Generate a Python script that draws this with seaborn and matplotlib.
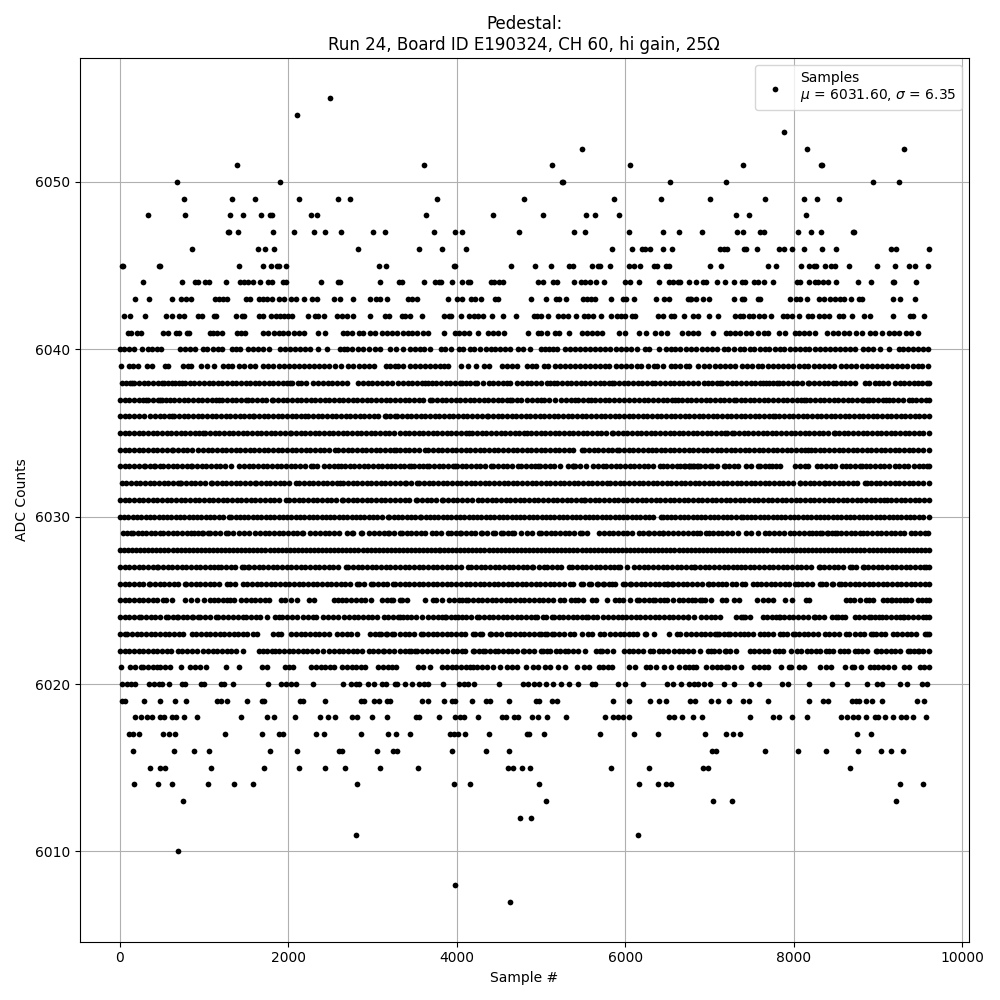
import matplotlib
matplotlib.use('Agg')
import matplotlib.pyplot as plt
import pandas as pd
import seaborn as sns

# sample numbers at each ADC level
s_6055 = [2499]
s_6054 = [2107]
s_6053 = [7879]
s_6052 = [5491, 8152, 9304]
s_6051 = [1394, 3614, 5135, 6061, 7403, 8320, 8335]
s_6050 = [681, 1905, 5250, 5258, 6525, 7201, 8936, 9245]
s_6049 = [764, 1335, 1608, 2130, 2594, 2736, 3768, 4802, 5871, 6418, 7011, 7653, 8116, 8271, 8532]
s_6048 = [337, 776, 1311, 1465, 1679, 1786, 1810, 2273, 2344, 3638, 4434, 5028, 5539, 5646, 5931, 7320, 7463, 8140]
s_6047 = [1285, 1295, 1406, 1822, 2071, 2309, 2440, 2630, 3010, 3152, 3733, 3982, 4066, 4743, 5396, 5527, 6038, 6442,
          6632, 6916, 7332, 7392, 7605, 7641, 8045, 8199, 8318, 8698, 8710]
s_6046 = [859, 1643, 1727, 1834, 2831, 3555, 3828, 4113, 5848, 6085, 6204, 6228, 6299, 6453, 6560, 7130, 7166, 7213,
          7415, 7439, 7558, 7819, 7879, 7985, 8116, 8330, 8496, 9150, 9209, 9601]
s_6045 = [28, 40, 467, 480, 1418, 1703, 1798, 1869, 1893, 1976, 3081, 3164, 3970, 3982, 4648, 4933, 5123, 5337, 5384,
          5610, 5681, 5701, 5824, 6049, 6109, 6180, 6346, 6382, 6489, 6513, 7011, 7142, 7700, 7784, 8092, 8176, 8235,
          8259, 8366, 8437, 8485, 8651, 8983, 9197, 9364, 9435, 9589]
s_6044 = [277, 741, 895, 930, 1014, 1061, 1263, 1430, 1477, 1525, 1584, 1667, 1762, 1810, 1940, 1976, 2392, 2594, 2618,
          3093, 3310, 3345, 3614, 3745, 3792, 3816, 3947, 4066, 4137, 4161, 4410, 4446, 4505, 4553, 4968, 5028, 5147,
          5194, 5396, 5479, 5527, 5586, 5657, 5752, 6002, 6061, 6168, 6406, 6513, 6572, 6620, 6644, 6762, 6845, 6928,
          6964, 7083, 7178, 7296, 7391, 7427, 7534, 7570, 7641, 7748, 8033, 8069, 8176, 8247, 8283, 8342, 8401, 8496,
          8758, 8912, 9174, 9186, 9447]
s_6043 = [182, 349, 622, 729, 788, 847, 1133, 1180, 1228, 1275, 1501, 1548, 1655, 1703, 1750, 1810, 1893, 1952, 2036,
          2095, 2190, 2285, 2337, 2546, 2618, 2772, 2974, 3045, 3093, 3176, 3424, 3472, 3531, 3899, 4006, 4066, 4172,
          4220, 4291, 4458, 4493, 4885, 5063, 5182, 5218, 5301, 5503, 5550, 5598, 5645, 5836, 5978, 6014, 6109, 6370,
          6465, 6513, 6739, 6774, 6786, 6845, 6928, 6988, 7285, 7380, 7415, 7570, 7605, 7950, 8021, 8069, 8152, 8294,
          8354, 8425, 8485, 8544, 8591, 8675, 8770, 8805, 9174, 9257, 9435]
s_6042 = [52, 123, 301, 551, 622, 705, 764, 931, 978, 1121, 1144, 1382, 1453, 1477, 1655, 1703, 1798, 1857, 1905, 1952,
          2000, 2047, 2238, 2321, 2356, 2427, 2582, 2641, 2701, 2772, 2974, 3152, 3200, 3345, 3380, 3448, 3590, 3852,
          3911, 3935, 4054, 4149, 4208, 4256, 4315, 4422, 4553, 4707, 4921, 4956, 5004, 5087, 5206, 5265, 5325, 5420,
          5515, 5562, 5622, 5717, 5836, 5907, 5954, 6002, 6085, 6121, 6394, 6442, 6548, 6584, 6702, 6798, 6869, 6988,
          7106, 7308, 7356, 7403, 7463, 7522, 7582, 7641, 7724, 7867, 7914, 7974, 8057, 8164, 8211, 8294, 8354, 8413,
          8532, 8580, 8686, 8829, 8900, 9174, 9375, 9411, 9542]
s_6041 = [99, 134, 198, 253, 514, 574, 669, 704, 800, 824, 1073, 1108, 1156, 1215, 1393, 1441, 1489, 1702, 1762, 1833,
          1892, 1940, 2000, 2071, 2130, 2189, 2356, 2439, 2653, 2700, 2760, 2843, 2890, 2974, 3033, 3116, 3176, 3235,
          3294, 3365, 3424, 3472, 3531, 3602, 3662, 3852, 3982, 4030, 4089, 4149, 4256, 4374, 4434, 4493, 4564, 4850,
          4968, 5004, 5075, 5170, 5218, 5337, 5491, 5550, 5610, 5669, 5729, 5931, 6002, 6168, 6251, 6358, 6418, 6501,
          6679, 6750, 6809, 6869, 7047, 7201, 7249, 7308, 7356, 7439, 7498, 7570, 7641, 7700, 7819, 7902, 8009, 8057,
          8116, 8176, 8247, 8389, 8461, 8520, 8591, 8651, 8734, 8805, 8900, 8960, 9043, 9126, 9185, 9245, 9328, 9387,
          9470]
s_6040 = [0, 51, 110, 170, 265, 336, 384, 443, 491, 716, 776, 835, 894, 990, 1037, 1108, 1168, 1215, 1334, 1382, 1429,
          1524, 1584, 1643, 1702, 1774, 1904, 1964, 2023, 2083, 2142, 2201, 2261, 2356, 2463, 2617, 2665, 2700, 2760,
          2831, 2890, 2962, 3033, 3092, 3211, 3282, 3365, 3448, 3507, 3567, 3614, 3685, 3816, 3864, 3935, 4030, 4077,
          4161, 4208, 4279, 4351, 4410, 4458, 4517, 4576, 4636, 4731, 4790, 4873, 5004, 5052, 5099, 5147, 5194, 5289,
          5349, 5408, 5467, 5527, 5586, 5646, 5705, 5764, 5824, 5895, 5954, 6014, 6073, 6133, 6228, 6287, 6406, 6489,
          6537, 6596, 6655, 6715, 6786, 6845, 6908, 6968, 7027, 7087, 7166, 7225, 7285, 7356, 7415, 7475, 7534, 7594,
          7653, 7712, 7772, 7831, 7890, 7950, 8009, 8069, 8128, 8187, 8247, 8306, 8366, 8425, 8484, 8544, 8603, 8663,
          8722, 8817, 8876, 8936, 9019, 9126, 9245, 9292, 9352, 9411, 9471, 9530, 9589]
s_6039 = [15, 110, 158, 217, 324, 384, 538, 574, 752, 811, 847, 966, 1037, 1120, 1227, 1287, 1334, 1417, 1477, 1548,
          1607, 1702, 1762, 1821, 1892, 1952, 2011, 2071, 2130, 2189, 2249, 2308, 2367, 2427, 2486, 2558, 2629, 2712,
          2772, 2843, 2902, 2962, 3021, 3164, 3211, 3270, 3306, 3365, 3448, 3507, 3567, 3626, 3685, 3745, 3804, 3852,
          3899, 4054, 4137, 4232, 4327, 4386, 4541, 4600, 4659, 4719, 4838, 4897, 4945, 5040, 5087, 5170, 5230, 5289,
          5349, 5408, 5467, 5527, 5586, 5646, 5705, 5764, 5812, 5895, 5954, 6014, 6073, 6133, 6192, 6275, 6335, 6382,
          6442, 6537, 6596, 6655, 6715, 6762, 6869, 6940, 6998, 7062, 7120, 7179, 7238, 7305, 7388, 7446, 7509, 7571,
          7628, 7690, 7752, 7811, 7870, 7932, 7991, 8058, 8116, 8175, 8240, 8301, 8358, 8419, 8480, 8560, 8622, 8680,
          8744, 8810, 8872, 8931, 8990, 9052, 9110, 9168, 9230, 9291, 9350, 9412, 9470, 9528, 9590]
s_6038 = [19, 72, 118, 146, 170, 226, 281, 333, 392, 447, 501, 526, 566, 613, 657, 702, 740, 776, 831, 884, 941, 996,
          1052, 1104, 1161, 1217, 1270, 1326, 1382, 1436, 1491, 1546, 1602, 1656, 1711, 1766, 1822, 1876, 1931, 1986,
          2019, 2047, 2118, 2154, 2209, 2296, 2356, 2411, 2466, 2522, 2578, 2633, 2693, 2831, 2887, 2943, 2998, 3053,
          3109, 3165, 3235, 3306, 3362, 3418, 3473, 3529, 3584, 3622, 3662, 3709, 3757, 3812, 3868, 3923, 3979, 4034,
          4065, 4105, 4160, 4215, 4244, 4315, 4386, 4434, 4490, 4546, 4601, 4636, 4719, 4775, 4830, 4886, 4942, 4997,
          5067, 5111, 5158, 5194, 5250, 5305, 5361, 5416, 5472, 5527, 5583, 5639, 5694, 5750, 5805, 5840, 5871, 5926,
          5982, 6037, 6093, 6148, 6204, 6259, 6315, 6358, 6414, 6469, 6525, 6580, 6636, 6691, 6747, 6802, 6858, 6936,
          6976, 7032, 7087, 7126, 7154, 7209, 7265, 7320, 7376, 7431, 7487, 7542, 7598, 7629, 7665, 7712, 7748, 7800,
          7819, 7875, 7930, 7986, 8041, 8097, 8168, 8187, 8243, 8298, 8354, 8410, 8461, 8500, 8556, 8611, 8667, 8722,
          8841, 8896, 8960, 9007, 9062, 9118, 9197, 9257, 9312, 9368, 9431, 9470, 9526, 9581, 9600]
s_6037 = [0, 56, 111, 167, 222, 278, 308, 336, 392, 447, 475, 495, 550, 594, 645, 700, 756, 811, 867, 922, 978, 1033,
          1089, 1144, 1180, 1215, 1270, 1326, 1381, 1437, 1496, 1516, 1571, 1627, 1682, 1738, 1801, 1821, 1876, 1932,
          1987, 2043, 2098, 2154, 2209, 2265, 2320, 2376, 2431, 2487, 2542, 2598, 2653, 2709, 2764, 2820, 2875, 2931,
          2986, 3042, 3097, 3153, 3208, 3264, 3326, 3381, 3437, 3492, 3548, 3603, 3681, 3709, 3764, 3820, 3875, 3931,
          3986, 4042, 4097, 4153, 4208, 4264, 4319, 4375, 4430, 4486, 4541, 4597, 4632, 4660, 4715, 4766, 4838, 4893,
          4949, 5004, 5040, 5099, 5170, 5242, 5297, 5353, 5408, 5444, 5499, 5555, 5598, 5646, 5701, 5757, 5812, 5868,
          5923, 5979, 6038, 6109, 6164, 6220, 6275, 6331, 6386, 6442, 6497, 6553, 6592, 6620, 6675, 6731, 6786, 6842,
          6897, 6953, 7008, 7064, 7119, 7175, 7230, 7286, 7316, 7368, 7423, 7479, 7534, 7590, 7645, 7700, 7756, 7811,
          7867, 7922, 7978, 8033, 8089, 8124, 8140, 8195, 8251, 8306, 8362, 8417, 8473, 8528, 8584, 8639, 8695, 8750,
          8809, 8817, 8869, 8889, 8944, 9000, 9055, 9094, 9126, 9181, 9237, 9292, 9372, 9399, 9454, 9510, 9565, 9600]
s_6036 = [0, 55, 111, 168, 224, 289, 360, 416, 471, 527, 582, 613, 645, 700, 756, 811, 867, 922, 978, 1033, 1089, 1144,
          1200, 1255, 1311, 1366, 1422, 1477, 1533, 1584, 1596, 1651, 1707, 1762, 1818, 1873, 1929, 1984, 2040, 2095,
          2151, 2201, 2237, 2292, 2348, 2403, 2459, 2514, 2570, 2625, 2681, 2736, 2792, 2847, 2903, 2958, 3014, 3069,
          3148, 3156, 3211, 3267, 3294, 3349, 3405, 3460, 3516, 3571, 3627, 3682, 3738, 3793, 3849, 3904, 3960, 4015,
          4071, 4126, 4182, 4237, 4293, 4355, 4374, 4429, 4485, 4540, 4596, 4651, 4707, 4762, 4818, 4873, 4929, 4984,
          5040, 5095, 5151, 5206, 5262, 5317, 5373, 5428, 5484, 5539, 5595, 5650, 5706, 5761, 5817, 5872, 5928, 5983,
          6039, 6094, 6150, 6205, 6261, 6316, 6372, 6427, 6483, 6538, 6594, 6649, 6705, 6760, 6816, 6871, 6927, 6982,
          7038, 7093, 7149, 7204, 7260, 7315, 7371, 7426, 7482, 7537, 7593, 7648, 7704, 7752, 7772, 7827, 7883, 7938,
          7994, 8049, 8105, 8160, 8216, 8271, 8327, 8382, 8438, 8493, 8549, 8604, 8660, 8715, 8771, 8826, 8882, 8937,
          8993, 9048, 9104, 9159, 9215, 9270, 9326, 9381, 9437, 9492, 9548, 9600]
s_6035 = [0, 56, 112, 167, 223, 278, 334, 389, 445, 500, 556, 611, 667, 722, 778, 833, 889, 944, 982, 1013, 1068, 1124,
          1179, 1235, 1290, 1346, 1401, 1457, 1512, 1568, 1623, 1679, 1734, 1790, 1845, 1901, 1956, 2019, 2035, 2090,
          2146, 2201, 2257, 2312, 2368, 2423, 2479, 2534, 2590, 2645, 2701, 2756, 2812, 2867, 2923, 2978, 3034, 3089,
          3145, 3200, 3256, 3326, 3381, 3437, 3492, 3548, 3603, 3659, 3714, 3770, 3825, 3881, 3936, 3992, 4047, 4103,
          4145, 4184, 4239, 4295, 4350, 4406, 4461, 4521, 4576, 4631, 4687, 4742, 4798, 4838, 4885, 4940, 4996, 5051,
          5107, 5162, 5218, 5273, 5329, 5384, 5440, 5495, 5551, 5606, 5662, 5717, 5773, 5844, 5859, 5914, 5970, 6025,
          6081, 6136, 6192, 6247, 6303, 6358, 6414, 6469, 6525, 6580, 6636, 6691, 6747, 6801, 6857, 6912, 6968, 7023,
          7079, 7134, 7186, 7205, 7265, 7296, 7351, 7407, 7462, 7518, 7573, 7629, 7684, 7740, 7795, 7851, 7906, 7962,
          8017, 8073, 8128, 8184, 8239, 8295, 8350, 8406, 8473, 8484, 8539, 8595, 8650, 8706, 8761, 8817, 8872, 8928,
          8983, 9039, 9094, 9150, 9205, 9261, 9316, 9372, 9427, 9483, 9538, 9600]
s_6034 = [0, 56, 111, 167, 222, 278, 333, 389, 444, 500, 555, 613, 633, 688, 744, 799, 851, 930, 985, 1041, 1096, 1152,
          1207, 1263, 1318, 1374, 1429, 1485, 1540, 1596, 1651, 1707, 1762, 1818, 1873, 1929, 1984, 2040, 2095, 2151,
          2206, 2262, 2317, 2373, 2428, 2484, 2554, 2593, 2648, 2704, 2759, 2815, 2870, 2926, 2981, 3037, 3092, 3148,
          3203, 3255, 3278, 3326, 3381, 3437, 3492, 3548, 3622, 3662, 3717, 3773, 3828, 3884, 3939, 3995, 4050, 4106,
          4161, 4217, 4272, 4328, 4383, 4439, 4494, 4550, 4605, 4661, 4716, 4772, 4827, 4883, 4938, 4994, 5049, 5105,
          5160, 5216, 5271, 5327, 5382, 5483, 5515, 5570, 5626, 5681, 5737, 5792, 5848, 5899, 5931, 5986, 6042, 6097,
          6153, 6208, 6264, 6319, 6366, 6418, 6473, 6529, 6584, 6640, 6695, 6751, 6806, 6862, 6917, 6973, 7028, 7084,
          7139, 7195, 7250, 7306, 7361, 7417, 7472, 7528, 7583, 7639, 7694, 7750, 7805, 7861, 7916, 7972, 8027, 8083,
          8138, 8164, 8199, 8254, 8310, 8365, 8421, 8476, 8532, 8587, 8643, 8698, 8754, 8809, 8865, 8920, 8976, 9031,
          9087, 9142, 9198, 9253, 9309, 9364, 9420, 9475, 9531, 9600]
s_6033 = [0, 56, 111, 167, 222, 285, 301, 356, 407, 419, 475, 514, 569, 625, 680, 736, 791, 839, 859, 914, 970, 1025,
          1081, 1140, 1191, 1246, 1318, 1417, 1472, 1528, 1583, 1639, 1694, 1750, 1805, 1861, 1916, 1972, 2027, 2083,
          2138, 2194, 2273, 2297, 2344, 2427, 2482, 2538, 2593, 2621, 2673, 2728, 2784, 2839, 2895, 2950, 3006, 3061,
          3117, 3172, 3219, 3270, 3326, 3376, 3431, 3456, 3491, 3546, 3602, 3642, 3673, 3728, 3784, 3839, 3895, 3950,
          3978, 4006, 4062, 4113, 4168, 4224, 4279, 4335, 4406, 4434, 4489, 4545, 4600, 4656, 4723, 4766, 4821, 4877,
          4932, 4964, 4992, 5047, 5103, 5158, 5226, 5321, 5376, 5384, 5408, 5463, 5535, 5622, 5677, 5741, 5776, 5831,
          5887, 5942, 5998, 6053, 6109, 6164, 6220, 6275, 6331, 6414, 6442, 6497, 6553, 6608, 6651, 6703, 6758, 6782,
          6810, 6861, 6699, 6762, 6809, 6857, 6889, 6944, 7000, 7035, 7094, 7166, 7178, 7233, 7289, 7340, 7439, 7494,
          7570, 7601, 7653, 7708, 7736, 7784, 7831, 8017, 8073, 8128, 8168, 8271, 8326, 8382, 8437, 8493, 8572, 8615,
          8670, 8726, 8781, 8813, 8853, 8908, 8964, 9019, 9075, 9134, 9197, 9252, 9308, 9352, 9423, 9482, 9530, 9585, 9600]
s_6032 = [19, 74, 130, 185, 241, 296, 352, 407, 463, 518, 574, 629, 685, 712, 728, 783, 839, 894, 950, 1005, 1077, 1096,
          1151, 1207, 1262, 1318, 1373, 1429, 1484, 1540, 1603, 1619, 1674, 1730, 1785, 1841, 1896, 1952, 2007, 2086,
          2130, 2185, 2241, 2296, 2352, 2407, 2463, 2518, 2574, 2613, 2653, 2708, 2764, 2819, 2875, 2930, 2986, 3041,
          3097, 3152, 3208, 3263, 3326, 3384, 3400, 3455, 3531, 3555, 3610, 3666, 3721, 3777, 3832, 3888, 3943, 3999,
          4054, 4110, 4165, 4221, 4276, 4332, 4387, 4443, 4498, 4554, 4609, 4665, 4720, 4776, 4831, 4887, 4942, 4998,
          5053, 5109, 5164, 5220, 5275, 5331, 5386, 5442, 5497, 5553, 5608, 5664, 5719, 5788, 5824, 5879, 5935, 5990,
          6046, 6101, 6157, 6212, 6268, 6323, 6379, 6434, 6490, 6545, 6601, 6656, 6712, 6767, 6823, 6878, 6934, 6989,
          7045, 7100, 7156, 7211, 7267, 7322, 7378, 7433, 7489, 7544, 7600, 7655, 7711, 7766, 7822, 7877, 7933, 7988,
          8069, 8080, 8135, 8191, 8246, 8302, 8354, 8366, 8421, 8477, 8532, 8588, 8643, 8699, 8754, 8849, 8864, 8919,
          8975, 9030, 9086, 9141, 9197, 9252, 9308, 9363, 9419, 9474, 9530, 9600]
s_6031 = [0, 55, 111, 166, 222, 277, 333, 388, 444, 499, 555, 610, 666, 721, 777, 832, 888, 943, 999, 1054, 1110, 1165,
          1221, 1276, 1332, 1387, 1443, 1498, 1554, 1609, 1665, 1720, 1776, 1831, 1887, 1972, 2011, 2066, 2122, 2177,
          2233, 2288, 2344, 2399, 2455, 2510, 2566, 2641, 2653, 2708, 2764, 2819, 2875, 2930, 2986, 3041, 3097, 3152,
          3208, 3263, 3326, 3381, 3437, 3515, 3531, 3586, 3642, 3697, 3753, 3828, 3840, 3895, 3951, 4006, 4062, 4117,
          4184, 4248, 4303, 4359, 4414, 4470, 4525, 4581, 4636, 4692, 4747, 4803, 4858, 4914, 4969, 5025, 5080, 5136,
          5191, 5247, 5302, 5358, 5413, 5469, 5515, 5527, 5582, 5638, 5693, 5749, 5804, 5860, 5915, 5971, 6026, 6082,
          6137, 6193, 6248, 6304, 6359, 6415, 6470, 6526, 6581, 6637, 6692, 6748, 6803, 6859, 6914, 6970, 7025, 7081,
          7136, 7192, 7247, 7303, 7358, 7414, 7469, 7525, 7580, 7636, 7691, 7747, 7802, 7858, 7913, 7969, 8024, 8080,
          8135, 8191, 8246, 8302, 8357, 8413, 8468, 8524, 8579, 8635, 8690, 8746, 8801, 8857, 8912, 8968, 9023, 9074,
          9102, 9157, 9213, 9268, 9324, 9379, 9435, 9490, 9546, 9600]
s_6030 = [0, 50, 101, 152, 203, 254, 305, 356, 407, 458, 509, 560, 611, 662, 713, 764, 815, 866, 917, 968, 1019, 1070,
          1121, 1172, 1223, 1298, 1322, 1373, 1424, 1475, 1526, 1577, 1628, 1679, 1730, 1781, 1832, 1883, 1934, 1985,
          2036, 2087, 2138, 2189, 2240, 2291, 2342, 2393, 2444, 2495, 2546, 2597, 2648, 2699, 2750, 2801, 2852, 2903,
          2954, 3005, 3056, 3107, 3187, 3199, 3250, 3301, 3352, 3403, 3454, 3505, 3563, 3578, 3629, 3680, 3731, 3782,
          3833, 3884, 3935, 3986, 4037, 4088, 4139, 4190, 4241, 4292, 4343, 4394, 4445, 4496, 4547, 4598, 4649, 4700,
          4751, 4802, 4853, 4904, 4955, 5006, 5057, 5108, 5159, 5210, 5261, 5312, 5363, 5414, 5465, 5516, 5567, 5618,
          5669, 5720, 5771, 5822, 5873, 5924, 5975, 6026, 6077, 6128, 6179, 6230, 6281, 6332, 6421, 6442, 6493, 6544,
          6595, 6646, 6697, 6748, 6799, 6850, 6901, 6952, 7003, 7054, 7105, 7156, 7207, 7258, 7309, 7376, 7392, 7443,
          7494, 7545, 7596, 7647, 7698, 7749, 7800, 7851, 7902, 7953, 8004, 8055, 8106, 8157, 8208, 8259, 8310, 8361,
          8412, 8463, 8514, 8565, 8616, 8667, 8718, 8769, 8820, 8871, 8922, 8973, 9024, 9075, 9126, 9177, 9228, 9279,
          9330, 9381, 9432, 9483, 9534, 9600]
s_6029 = [39, 85, 130, 158, 212, 265, 312, 367, 422, 479, 514, 569, 625, 680, 736, 791, 839, 883, 930, 978, 990, 1049,
          1073, 1128, 1184, 1263, 1287, 1342, 1417, 1477, 1528, 1607, 1662, 1718, 1773, 1829, 1884, 1940, 1995, 2051,
          2106, 2166, 2178, 2257, 2320, 2375, 2431, 2486, 2542, 2605, 2700, 2760, 2772, 2867, 2878, 2954, 3021, 3076,
          3132, 3187, 3199, 3254, 3326, 3345, 3412, 3460, 3515, 3571, 3626, 3705, 3757, 3812, 3899, 3935, 3990, 4042,
          4054, 4109, 4165, 4220, 4291, 4303, 4358, 4434, 4458, 4529, 4553, 4608, 4660, 4683, 4762, 4838, 4893, 4972,
          5004, 5059, 5115, 5170, 5226, 5281, 5337, 5392, 5463, 5491, 5550, 5693, 5748, 5804, 5859, 5915, 5970, 6026,
          6081, 6168, 6216, 6275, 6287, 6342, 6398, 6442, 6453, 6509, 6572, 6627, 6683, 6739, 6798, 6853, 6889, 6964,
          6988, 7043, 7099, 7154, 7210, 7265, 7340, 7439, 7494, 7570, 7653, 7708, 7764, 7819, 7879, 7950, 8005, 8061,
          8116, 8187, 8211, 8266, 8306, 8330, 8393, 8401, 8456, 8492, 8508, 8563, 8619, 8674, 8730, 8789, 8817, 8872,
          8928, 8983, 9039, 9094, 9150, 9205, 9261, 9312, 9387, 9442, 9498, 9553, 9589]
s_6028 = [0, 48, 96, 144, 192, 240, 288, 336, 384, 432, 480, 528, 576, 624, 672, 720, 768, 816, 864, 912, 960, 1008,
          1056, 1104, 1152, 1200, 1248, 1296, 1344, 1392, 1440, 1488, 1536, 1584, 1632, 1680, 1728, 1776, 1824, 1872,
          1920, 1968, 2016, 2064, 2112, 2160, 2208, 2256, 2304, 2352, 2400, 2448, 2496, 2544, 2592, 2640, 2688, 2736,
          2784, 2832, 2880, 2928, 2976, 3024, 3072, 3120, 3168, 3216, 3264, 3312, 3360, 3408, 3456, 3504, 3552, 3600,
          3648, 3696, 3744, 3788, 3800, 3848, 3896, 3944, 3992, 4040, 4088, 4136, 4184, 4232, 4280, 4328, 4376, 4424,
          4472, 4520, 4568, 4616, 4664, 4712, 4760, 4808, 4856, 4904, 4952, 5000, 5048, 5096, 5144, 5192, 5240, 5288,
          5336, 5384, 5432, 5480, 5528, 5576, 5624, 5672, 5720, 5768, 5816, 5864, 5912, 5960, 6008, 6056, 6104, 6152,
          6200, 6248, 6296, 6344, 6392, 6440, 6488, 6536, 6584, 6632, 6680, 6728, 6776, 6824, 6872, 6920, 6968, 7016,
          7064, 7112, 7160, 7208, 7256, 7304, 7352, 7400, 7448, 7496, 7544, 7592, 7640, 7688, 7736, 7784, 7832, 7880,
          7928, 7976, 8024, 8072, 8120, 8168, 8216, 8264, 8312, 8360, 8408, 8456, 8504, 8552, 8600, 8648, 8696, 8744,
          8792, 8840, 8888, 8936, 8984, 9032, 9080, 9128, 9176, 9224, 9272, 9320, 9368, 9416, 9464, 9512, 9560, 9600]
s_6027 = [0, 55, 111, 166, 222, 277, 333, 388, 435, 455, 510, 566, 621, 677, 732, 788, 843, 899, 954, 1010, 1065, 1121,
          1168, 1203, 1258, 1314, 1369, 1453, 1477, 1524, 1536, 1591, 1647, 1702, 1758, 1813, 1869, 1924, 1980, 2035,
          2091, 2146, 2202, 2257, 2313, 2368, 2424, 2479, 2535, 2590, 2685, 2712, 2767, 2823, 2878, 2934, 2989, 3045,
          3100, 3156, 3211, 3267, 3326, 3381, 3437, 3492, 3548, 3603, 3659, 3714, 3770, 3825, 3881, 3936, 3992, 4047,
          4137, 4172, 4227, 4283, 4338, 4394, 4449, 4505, 4560, 4616, 4671, 4727, 4782, 4838, 4893, 4909, 4980, 5040,
          5075, 5130, 5186, 5241, 5337, 5372, 5427, 5483, 5538, 5594, 5649, 5705, 5760, 5816, 5871, 5919, 5943, 6026,
          6109, 6164, 6220, 6275, 6331, 6386, 6442, 6497, 6553, 6608, 6664, 6719, 6775, 6817, 6833, 6888, 6944, 6999,
          7055, 7110, 7166, 7221, 7277, 7332, 7368, 7423, 7479, 7534, 7590, 7645, 7701, 7756, 7812, 7867, 7923, 7978,
          8034, 8089, 8145, 8200, 8294, 8306, 8361, 8417, 8472, 8528, 8583, 8663, 8686, 8741, 8817, 8829, 8884, 8940,
          8995, 9051, 9106, 9162, 9217, 9273, 9328, 9384, 9439, 9495, 9542, 9565, 9600]
s_6026 = [0, 56, 111, 167, 222, 278, 344, 360, 415, 471, 526, 582, 637, 693, 771, 788, 843, 899, 954, 1010, 1065, 1121,
          1176, 1271, 1310, 1365, 1465, 1512, 1567, 1623, 1678, 1734, 1789, 1845, 1900, 1956, 2011, 2067, 2122, 2178,
          2233, 2289, 2344, 2400, 2455, 2511, 2566, 2622, 2677, 2733, 2811, 2843, 2898, 2982, 3009, 3064, 3120, 3175,
          3247, 3270, 3326, 3381, 3437, 3492, 3548, 3603, 3659, 3714, 3770, 3825, 3881, 3936, 3992, 4047, 4103, 4158,
          4214, 4269, 4325, 4380, 4436, 4491, 4547, 4602, 4658, 4713, 4769, 4824, 4880, 4935, 4991, 5046, 5102, 5157,
          5213, 5268, 5345, 5384, 5479, 5503, 5574, 5598, 5661, 5681, 5741, 5752, 5807, 5847, 5883, 5978, 6002, 6057,
          6073, 6128, 6184, 6239, 6295, 6350, 6406, 6461, 6493, 6505, 6560, 6572, 6627, 6683, 6738, 6794, 6849, 6905,
          6976, 6988, 7043, 7099, 7154, 7197, 7261, 7316, 7388, 7427, 7522, 7558, 7613, 7669, 7724, 7780, 7835, 7891,
          7946, 8009, 8045, 8100, 8156, 8211, 8306, 8330, 8385, 8449, 8465, 8532, 8556, 8611, 8667, 8722, 8778, 8833,
          8889, 8944, 9000, 9055, 9111, 9166, 9222, 9277, 9333, 9388, 9444, 9499, 9555, 9600]
s_6025 = [0, 56, 111, 167, 222, 278, 333, 389, 444, 506, 550, 613, 776, 847, 918, 1001, 1073, 1120, 1168, 1224, 1267,
          1310, 1358, 1441, 1496, 1552, 1607, 1663, 1718, 1774, 1916, 1964, 2035, 2106, 2249, 2308, 2546, 2593, 2641,
          2688, 2748, 2803, 2859, 2914, 2985, 3116, 3171, 3215, 3247, 3326, 3345, 3412, 3626, 3721, 3757, 3828, 3911,
          3966, 4022, 4066, 4113, 4137, 4192, 4248, 4303, 4359, 4422, 4469, 4524, 4580, 4635, 4691, 4746, 4798, 4861,
          4916, 4972, 5027, 5083, 5138, 5230, 5277, 5360, 5408, 5444, 5503, 5610, 5657, 5788, 5883, 5931, 5978, 6061,
          6133, 6168, 6223, 6279, 6323, 6358, 6413, 6465, 6501, 6572, 6632, 6687, 6743, 6790, 6833, 6889, 6916, 6952,
          7015, 7154, 7201, 7285, 7348, 7558, 7629, 7689, 7748, 7902, 7978, 8140, 8187, 8615, 8670, 8714, 8781, 8857,
          8889, 8936, 9055, 9110, 9150, 9162, 9209, 9257, 9304, 9340, 9395, 9471, 9518, 9574, 9600]
s_6024 = [0, 56, 111, 167, 229, 253, 308, 364, 419, 475, 542, 574, 629, 681, 693, 752, 800, 851, 871, 930, 954, 1009,
          1065, 1136, 1168, 1223, 1279, 1346, 1401, 1465, 1500, 1555, 1611, 1666, 1750, 1845, 1892, 1928, 1983, 2039,
          2098, 2178, 2233, 2289, 2332, 2415, 2470, 2526, 2593, 2665, 2720, 2776, 2831, 2887, 2942, 2998, 3053, 3136,
          3187, 3242, 3298, 3326, 3357, 3404, 3459, 3515, 3590, 3662, 3717, 3773, 3828, 3864, 3875, 3930, 3978, 4018,
          4066, 4113, 4168, 4236, 4267, 4322, 4378, 4433, 4489, 4544, 4600, 4655, 4711, 4766, 4822, 4877, 4933, 4956,
          5028, 5063, 5135, 5158, 5218, 5265, 5320, 5376, 5431, 5487, 5531, 5562, 5617, 5661, 5741, 5796, 5851, 5919,
          5966, 6014, 6069, 6125, 6180, 6236, 6291, 6347, 6402, 6458, 6513, 6569, 6624, 6680, 6739, 6750, 6817, 6904,
          6959, 7015, 7070, 7130, 7320, 7375, 7403, 7427, 7483, 7629, 7684, 7740, 7795, 7819, 7831, 7886, 7942, 7997,
          8053, 8108, 8164, 8235, 8247, 8302, 8354, 8449, 8496, 8520, 8575, 8611, 8722, 8777, 8833, 8889, 8912, 8967,
          9007, 9043, 9098, 9154, 9209, 9265, 9292, 9304, 9359, 9415, 9470, 9530, 9565, 9600]
s_6023 = [0, 63, 87, 142, 198, 253, 309, 364, 420, 475, 531, 586, 642, 697, 752, 851, 906, 962, 1017, 1073, 1128, 1184,
          1239, 1295, 1350, 1406, 1461, 1512, 1584, 1631, 1821, 1876, 1916, 2035, 2090, 2146, 2201, 2257, 2312, 2368,
          2423, 2486, 2582, 2637, 2693, 2748, 2819, 2974, 3029, 3081, 3104, 3160, 3176, 3227, 3259, 3326, 3381, 3437,
          3492, 3578, 3602, 3657, 3713, 3768, 3824, 3879, 3935, 3990, 4046, 4101, 4196, 4220, 4279, 4303, 4394, 4410,
          4465, 4521, 4600, 4636, 4691, 4747, 4802, 4858, 4913, 4980, 5004, 5052, 5075, 5135, 5158, 5213, 5269, 5349,
          5396, 5491, 5562, 5610, 5705, 5752, 5824, 5879, 5935, 5990, 6046, 6097, 6133, 6228, 6251, 6335, 6524, 6612,
          6644, 6715, 6786, 6841, 6897, 6952, 7008, 7063, 7094, 7118, 7173, 7225, 7249, 7304, 7360, 7415, 7451, 7522,
          7594, 7641, 7696, 7752, 7831, 7867, 7922, 7997, 8009, 8057, 8116, 8171, 8227, 8283, 8366, 8421, 8477, 8532,
          8615, 8651, 8722, 8781, 8836, 8912, 8936, 8971, 9031, 9079, 9174, 9229, 9285, 9340, 9396, 9451, 9554, 9577, 9600]
s_6022 = [0, 56, 111, 167, 222, 278, 333, 389, 444, 500, 555, 611, 693, 741, 796, 852, 918, 990, 1045, 1101, 1156, 1212,
          1267, 1323, 1378, 1465, 1655, 1703, 1750, 1805, 1845, 1892, 1947, 2003, 2058, 2114, 2169, 2225, 2280, 2336,
          2415, 2486, 2541, 2597, 2652, 2708, 2763, 2819, 2874, 2962, 3009, 3064, 3128, 3140, 3195, 3251, 3326, 3381,
          3436, 3460, 3507, 3531, 3586, 3642, 3709, 3768, 3823, 3879, 3959, 4006, 4066, 4101, 4196, 4208, 4263, 4315,
          4339, 4394, 4458, 4493, 4548, 4604, 4659, 4715, 4790, 4802, 4857, 4913, 5004, 5028, 5075, 5111, 5182, 5230,
          5289, 5325, 5380, 5436, 5527, 5657, 5705, 5729, 5784, 5859, 5990, 6038, 6097, 6152, 6208, 6295, 6323, 6406,
          6453, 6508, 6584, 6632, 6687, 6743, 6798, 6889, 6976, 7023, 7059, 7114, 7178, 7190, 7245, 7320, 7475, 7530,
          7586, 7641, 7697, 7780, 7819, 7874, 7962, 8033, 8081, 8152, 8199, 8259, 8314, 8378, 8413, 8468, 8544, 8591,
          8646, 8722, 8758, 8813, 8869, 8971, 8983, 9038, 9094, 9149, 9205, 9260, 9352, 9375, 9430, 9471, 9482, 9537, 9600]
s_6021 = [15, 122, 177, 253, 277, 332, 388, 443, 479, 534, 598, 728, 835, 890, 946, 1025, 1263, 1417, 1691, 1750, 1964,
          2010, 2059, 2273, 2328, 2384, 2439, 2495, 2546, 2641, 2696, 2752, 2807, 2863, 2914, 3069, 3124, 3180, 3235,
          3282, 3543, 3598, 3685, 3828, 3883, 3939, 3994, 4050, 4105, 4161, 4196, 4244, 4303, 4363, 4434, 4517, 4600,
          4655, 4719, 4826, 4909, 4968, 5052, 5111, 5206, 5289, 5432, 5515, 5574, 5685, 5740, 5796, 5847, 6049, 6121,
          6240, 6299, 6370, 6465, 6548, 6632, 6703, 6754, 6809, 6845, 6964, 7035, 7083, 7142, 7197, 7225, 7285, 7368,
          7534, 7589, 7645, 7689, 7843, 7938, 7962, 8057, 8116, 8306, 8377, 8437, 8603, 8686, 8710, 8793, 8900, 8948,
          9003, 9059, 9114, 9185, 9304, 9364, 9494, 9549, 9601]
s_6020 = [27, 82, 137, 182, 348, 407, 462, 502, 586, 740, 776, 966, 1001, 1203, 1239, 1346, 1762, 1916, 1976, 2035,
          2094, 2296, 2653, 2748, 2803, 2843, 2950, 3021, 3116, 3164, 3270, 3294, 3388, 3472, 3555, 3614, 3662, 3840,
          4030, 4089, 4137, 4208, 4505, 4790, 4845, 4921, 4980, 5063, 5147, 5242, 5337, 5444, 5610, 5646, 5919, 6002,
          6216, 6501, 6572, 6667, 6762, 6810, 6869, 6940, 7011, 7166, 7296, 7498, 7593, 7855, 7926, 8187, 8449, 8627,
          8865, 8983, 9043, 9257, 9340, 9518, 9577]
s_6019 = [27, 63, 289, 479, 657, 788, 1156, 1203, 1275, 1512, 1691, 1714, 2142, 2178, 2439, 2867, 2902, 3021, 3080,
          3176, 3211, 3590, 3662, 3852, 3947, 3982, 4184, 4351, 4398, 4624, 4945, 4980, 5135, 5186, 5859, 6049, 6299,
          6406, 6489, 6774, 6833, 7023, 7106, 7237, 7403, 7463, 7700, 8187, 8342, 8401, 8686, 8734, 8770, 8853, 8924,
          9043, 9459, 9542]
s_6018 = [182, 253, 324, 384, 479, 526, 622, 669, 764, 918, 1441, 1750, 1833, 2083, 2380, 2475, 2558, 2760, 2819, 2997,
          3176, 3519, 3555, 3792, 3982, 4042, 4089, 4256, 4541, 4588, 4683, 4731, 4897, 4968, 5075, 5301, 5764, 5859,
          5919, 5978, 6049, 6513, 6584, 6679, 6809, 6916, 7475, 7748, 7819, 7974, 8152, 8556, 8627, 8698, 8758, 8853,
          8960, 8995, 9079, 9174, 9269, 9328, 9411, 9565]
s_6017 = [110, 158, 229, 514, 586, 657, 1251, 1691, 1892, 1940, 2332, 2427, 2867, 3187, 3282, 3448, 3923, 3970, 4018,
          4101, 4386, 4838, 4862, 5040, 5705, 6109, 6394, 6952, 7190, 7273, 7356, 8746, 8912]
s_6016 = [158, 645, 883, 1061, 1786, 2106, 2605, 2641, 3057, 3247, 3294, 3947, 4351, 4624, 7035, 7071, 7653, 8045, 8378,
          8758, 9031, 9150, 9292]
s_6015 = [360, 479, 538, 1085, 1714, 2130, 2439, 2677, 3092, 3543, 4612, 4671, 4778, 4873, 5836, 6287, 6928, 6976, 8663]
s_6014 = [170, 455, 621, 1049, 1358, 1584, 2819, 3970, 4161, 4980, 6168, 6394, 6489, 6537, 9257, 9530]
s_6013 = [752, 5063, 7047, 7261, 9209]
s_6012 = [4755, 4885]
s_6011 = [2807, 6156]
s_6010 = [693]
s_6008 = [3982]
s_6007 = [4636]

adc_levels = [6055, 6054, 6053, 6052, 6051, 6050, 6049, 6048, 6047, 6046, 6045, 6044, 6043, 6042, 6041, 6040, 6039,
              6038, 6037, 6036, 6035, 6034, 6033, 6032, 6031, 6030, 6029, 6028, 6027, 6026, 6025, 6024, 6023, 6022,
              6021, 6020, 6019, 6018, 6017, 6016, 6015, 6014, 6013, 6012, 6011, 6010, 6008, 6007]
samples_per_level = [s_6055, s_6054, s_6053, s_6052, s_6051, s_6050, s_6049, s_6048, s_6047, s_6046, s_6045, s_6044,
                     s_6043, s_6042, s_6041, s_6040, s_6039, s_6038, s_6037, s_6036, s_6035, s_6034, s_6033, s_6032,
                     s_6031, s_6030, s_6029, s_6028, s_6027, s_6026, s_6025, s_6024, s_6023, s_6022, s_6021, s_6020,
                     s_6019, s_6018, s_6017, s_6016, s_6015, s_6014, s_6013, s_6012, s_6011, s_6010, s_6008, s_6007]

df = pd.DataFrame({
    'sample': [s for row in samples_per_level for s in row],
    'adc': [lvl for lvl, row in zip(adc_levels, samples_per_level) for _ in row],
})

fig, ax = plt.subplots(figsize=(10, 10), dpi=100)
sns.scatterplot(data=df, x='sample', y='adc', ax=ax, color='black', marker='o', s=17, linewidth=0, zorder=3,
                label='Samples\n$\\mu$ = 6031.60, $\\sigma$ = 6.35')
ax.grid(True)
ax.set_xlim(-480, 10080)
ax.set_ylim(6004.6, 6057.4)
ax.set_xlabel('Sample #')
ax.set_ylabel('ADC Counts')
ax.set_title('Pedestal:\nRun 24, Board ID E190324, CH 60, hi gain, 25Ω')
ax.legend(loc='upper right')
plt.tight_layout()
plt.savefig('out.png', dpi=100)
